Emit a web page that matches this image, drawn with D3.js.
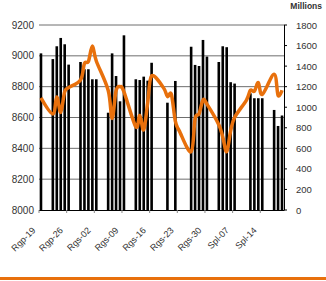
<!DOCTYPE html>
<html>
<head>
<meta charset="utf-8">
<style>
  body { margin: 0; background: #fff; }
  svg text { font-family: "Liberation Sans", Arial, sans-serif; fill: #333; }
</style>
</head>
<body>
<div id="chart"></div>
<script src="https://d3js.org/d3.v7.min.js"></script>
<script>
// trading days
var dates = [
  "2010-08-20",
  "2010-08-23", "2010-08-24", "2010-08-25", "2010-08-26", "2010-08-27",
  "2010-08-30", "2010-08-31", "2010-09-01", "2010-09-02", "2010-09-03",
  "2010-09-06", "2010-09-07", "2010-09-08", "2010-09-09", "2010-09-10",
  "2010-09-13", "2010-09-14", "2010-09-15", "2010-09-16", "2010-09-17",
  "2010-09-20", "2010-09-21", "2010-09-22", "2010-09-23", "2010-09-24",
  "2010-09-27", "2010-09-28", "2010-09-29", "2010-09-30", "2010-10-01",
  "2010-10-04", "2010-10-05", "2010-10-06", "2010-10-07", "2010-10-08",
  "2010-10-11", "2010-10-12", "2010-10-13", "2010-10-14", "2010-10-15",
  "2010-10-18", "2010-10-19", "2010-10-20"
];
// bars (left axis), null = no bar that day
var barValues = [
  9016,
  8979, 9062, 9116, 9075, 8943,
  8960, 8913, 8913, 8848, 8848,
  8631, 9016, 8869, 8705, 9133,
  8848, 8843, 8865, 8839, 8955,
  null, 8696, null, 8837, null,
  9059, 8941, 8934, 9103, 8995,
  8960, 9062, 9056, 8829, 8820,
  null, 8757, 8725, 8725, 8725,
  8649, 8545, 8613
];
// line (right axis, millions)
var lineValues = [
  1090,
  935, 1100, 950, 1150, 1190,
  1265, 1425, 1445, 1595, 1450,
  1165, 890, 1160, 1200, 1150,
  810, 920, 780, 1040, 1305,
  1190, 1105, 1125, 865, 770,
  567, 890, 935, 1070, 1030,
  830, 710, 567, 770, 900,
  1070, 1165, 1155, 1240, 1125,
  1320, 1115, 1165
];
var leftTicks = [8000, 8200, 8400, 8600, 8800, 9000, 9200];
var rightTicks = [0, 200, 400, 600, 800, 1000, 1200, 1400, 1600, 1800];
var xTickDates = ["2010-08-19", "2010-08-26", "2010-09-02", "2010-09-09", "2010-09-16",
                  "2010-09-23", "2010-09-30", "2010-10-07", "2010-10-14"];
var xTickLabels = ["Rgp-19", "Rgp-26", "Rgs-02", "Rgs-09", "Rgs-16",
                   "Rgs-23", "Rgs-30", "Spl-07", "Spl-14"];

var W = 326, H = 281;
var parse = d3.utcParse("%Y-%m-%d");

var svg = d3.select("#chart").append("svg")
    .attr("width", W)
    .attr("height", H);

var x = d3.scaleUtc()
    .domain([parse("2010-08-20"), parse("2010-10-21")])
    .range([39, 284]);
var yL = d3.scaleLinear().domain([8000, 9200]).range([210, 25]);
var yR = d3.scaleLinear().domain([0, 1800]).range([210, 25]);

function mid(d) { return x(d3.utcHour.offset(parse(d), 12)); }

// gridlines
svg.append("g").selectAll("line")
    .data(leftTicks.slice(1))
    .enter().append("line")
    .attr("x1", 39).attr("x2", 284)
    .attr("y1", function (d) { return yL(d); })
    .attr("y2", function (d) { return yL(d); })
    .attr("stroke", "#6e6e6e")
    .attr("stroke-width", 1);

// left labels
svg.append("g").selectAll("text")
    .data(leftTicks)
    .enter().append("text")
    .attr("x", 34)
    .attr("y", function (d) { return yL(d) + 3.5; })
    .attr("text-anchor", "end")
    .style("font-size", "10px")
    .text(function (d) { return d; });

// bars
var bw = 2.6;
svg.append("g").selectAll("rect")
    .data(dates.map(function (d, i) { return { d: d, v: barValues[i] }; })
        .filter(function (o) { return o.v !== null; }))
    .enter().append("rect")
    .attr("x", function (o) { return mid(o.d) - bw / 2; })
    .attr("width", bw)
    .attr("y", function (o) { return yL(o.v); })
    .attr("height", function (o) { return 210 - yL(o.v); })
    .attr("fill", "#000");

// x axis
svg.append("line")
    .attr("x1", 39).attr("x2", 284)
    .attr("y1", 210.5).attr("y2", 210.5)
    .attr("stroke", "#000");

var xt = svg.append("g").selectAll("g")
    .data(xTickDates)
    .enter().append("g")
    .attr("transform", function (d) {
        return "translate(" + x(d3.utcDay.offset(parse(d), 1)) + ",210)";
    });
xt.append("line")
    .attr("y1", 0).attr("y2", 3)
    .attr("stroke", "#888");
xt.append("text")
    .attr("transform", "translate(-3,21) rotate(-45)")
    .attr("text-anchor", "end")
    .style("font-size", "9px")
    .text(function (d, i) { return xTickLabels[i]; });

// right axis
svg.append("line")
    .attr("x1", 284.5).attr("x2", 284.5)
    .attr("y1", 25).attr("y2", 210.5)
    .attr("stroke", "#000");
var rt = svg.append("g").selectAll("g")
    .data(rightTicks)
    .enter().append("g")
    .attr("transform", function (d) { return "translate(284," + yR(d) + ")"; });
rt.append("line")
    .attr("x1", 0).attr("x2", 3)
    .attr("stroke", "#000");
rt.append("text")
    .attr("x", 12)
    .attr("y", 3.5)
    .style("font-size", "9.5px")
    .text(function (d) { return d; });

svg.append("text")
    .attr("x", 322).attr("y", 9)
    .attr("text-anchor", "end")
    .style("font-size", "8.5px")
    .style("font-weight", "bold")
    .text("Millions");

// line
var line = d3.line()
    .x(function (d) { return mid(d); })
    .y(function (d, i) { return yR(lineValues[i]); })
    .curve(d3.curveCardinal.tension(0));
svg.append("path")
    .datum(dates)
    .attr("d", line)
    .attr("fill", "none")
    .attr("stroke", "#e8700c")
    .attr("stroke-width", 3.5)
    .attr("stroke-linejoin", "round");

// orange rule at the bottom
svg.append("rect")
    .attr("x", 0).attr("y", 277)
    .attr("width", W).attr("height", 3)
    .attr("fill", "#e8700c");
</script>
</body>
</html>
